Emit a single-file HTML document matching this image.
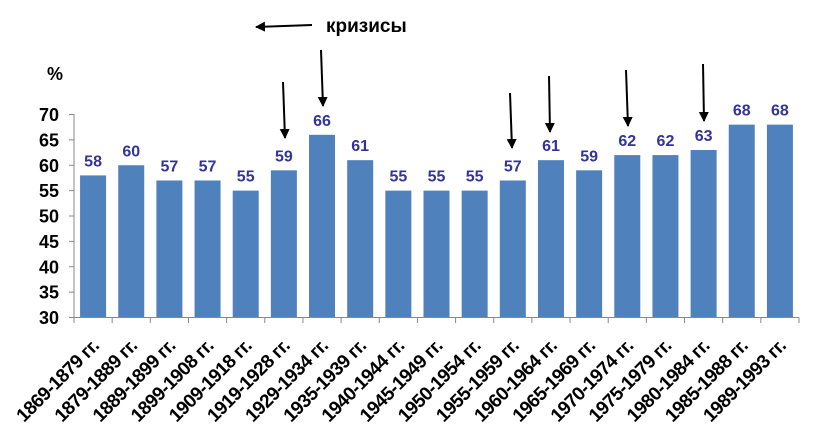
<!DOCTYPE html>
<html><head><meta charset="utf-8"><style>
html,body{margin:0;padding:0;background:#fff;}
svg{display:block;font-family:"Liberation Sans",Arial,sans-serif;font-weight:bold;}
</style></head><body>
<svg width="815" height="445" viewBox="0 0 815 445" xmlns="http://www.w3.org/2000/svg">
<defs><marker id="ah" viewBox="0 0 10 10" refX="9" refY="5" markerWidth="5" markerHeight="5" orient="auto"><path d="M0,0 L10,5 L0,10 z" fill="#000"/></marker></defs>
<g id="bars"></g>
<line x1="74" y1="114" x2="74" y2="317.5" stroke="#888" stroke-width="1"/>
<line x1="74" y1="317.5" x2="799" y2="317.5" stroke="#888" stroke-width="1"/>
<g id="ax"></g>
<text x="55" y="80" font-size="18" text-anchor="middle">%</text>
<text x="326" y="32" font-size="19">кризисы</text>
<g stroke="#000" stroke-width="2" marker-end="url(#ah)">
<line x1="312" y1="25" x2="256" y2="27"/>
<line x1="283" y1="82" x2="285" y2="138"/>
<line x1="321" y1="50" x2="323" y2="106"/>
<line x1="510" y1="93" x2="512" y2="148"/>
<line x1="549" y1="76" x2="550" y2="132"/>
<line x1="626" y1="70" x2="628" y2="126"/>
<line x1="703" y1="64" x2="704" y2="121"/>
</g>
</svg>
<script>
const vals=[58,60,57,57,55,59,66,61,55,55,55,57,61,59,62,62,63,68,68];
const labs=["1869-1879","1879-1889","1889-1899","1899-1908","1909-1918","1919-1928","1929-1934","1935-1939","1940-1944","1945-1949","1950-1954","1955-1959","1960-1964","1965-1969","1970-1974","1975-1979","1980-1984","1985-1988","1989-1993"];
const ns="http://www.w3.org/2000/svg";
const b=document.getElementById("bars"),a=document.getElementById("ax");
const sp=725/19,y0=317.5,k=5.075;
function el(p,t,at,txt){const e=document.createElementNS(ns,t);for(const q in at)e.setAttribute(q,at[q]);if(txt)e.textContent=txt;p.appendChild(e);return e;}
vals.forEach((v,i)=>{const cx=74+sp*(i+0.5),top=y0-(v-30)*k;
el(b,"rect",{x:cx-13,y:top,width:26,height:y0-top,fill:"#4f81bd"});
el(b,"text",{x:cx,y:top-9,"font-size":16,fill:"#333399","text-anchor":"middle"},String(v));
el(a,"text",{x:0,y:0,"font-size":19,"letter-spacing":"-0.6","text-anchor":"end",transform:`translate(${cx+7},${347}) rotate(-45)`},labs[i]+" гг.");});
for(let i=0;i<=19;i++){const x=74+sp*i;el(a,"line",{x1:x,y1:317.5,x2:x,y2:323,stroke:"#888"});}
for(let v=30;v<=70;v+=5){const y=y0-(v-30)*k;el(a,"line",{x1:69,y1:y,x2:74,y2:y,stroke:"#888"});
el(a,"text",{x:59,y:y+6.5,"font-size":18,"text-anchor":"end"},String(v));}
</script>
</body></html>
